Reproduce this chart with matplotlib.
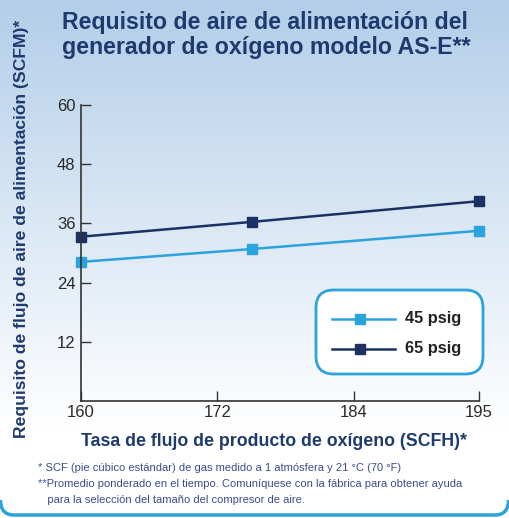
import numpy as np
import matplotlib
matplotlib.use("Agg")
import matplotlib.pyplot as plt
from matplotlib.patches import FancyBboxPatch, PathPatch
from matplotlib.path import Path
from matplotlib.lines import Line2D

flow_scfh = [160, 175, 195]
air_45 = [28.2, 30.8, 34.5]
air_65 = [33.3, 36.3, 40.5]
series_labels = ["45 psig", "65 psig"]
xticks = [160, 172, 184, 195]
yticks = [12, 24, 36, 48, 60]

title = "Requisito de aire de alimentación del\ngenerador de oxígeno modelo AS-E**"
ylabel = "Requisito de flujo de aire de alimentación (SCFM)*"
xlabel = "Tasa de flujo de producto de oxígeno (SCFH)*"
notes = ["* SCF (pie cúbico estándar) de gas medido a 1 atmósfera y 21 °C (70 °F)",
         "**Promedio ponderado en el tiempo. Comuníquese con la fábrica para obtener ayuda",
         "   para la selección del tamaño del compresor de aire."]

navy = "#1f3a6e"
light = "#2ba3dc"
dark = "#1b3163"

plt.rcParams['font.family'] = ['Liberation Sans', 'DejaVu Sans']

W, H = 509, 518
fig = plt.figure(figsize=(W/100, H/100), dpi=100)

# background gradient
bg = fig.add_axes([0, 0, 1, 1], zorder=-10)
n = 256
t = np.linspace(0, 1, n)[:, None]
top = np.array([179, 206, 233]) / 255
bot = np.array([255, 255, 255]) / 255
frac = np.clip(t / 0.83, 0, 1)
grad = top[None, None, :] * (1 - frac[..., None]) + bot[None, None, :] * frac[..., None]
grad = np.repeat(grad, 2, axis=1)
bg.imshow(grad, aspect='auto', extent=[0, 1, 0, 1], origin='upper')
bg.set_xlim(0, 1); bg.set_ylim(0, 1)
bg.axis('off')

# bottom border with rounded corners (figure pixel space, origin bottom-left)
by = 3.0
verts = [(0.5, 18), (0.5, by), (14, by), (W - 14, by), (W - 0.5, by), (W - 0.5, 18)]
codes = [Path.MOVETO, Path.CURVE3, Path.CURVE3, Path.LINETO, Path.CURVE3, Path.CURVE3]
verts = [(x / W, y / H) for x, y in verts]
fig.patches.append(PathPatch(Path(verts, codes), transform=fig.transFigure, fill=False,
                             edgecolor=light, linewidth=2.5))

ax = fig.add_axes([81/W, (H-401)/H, (479-81)/W, (401-105)/H])
ax.patch.set_alpha(0)
ax.plot(flow_scfh, air_45, color=light, lw=1.8, marker='s', ms=6.5, label=series_labels[0], clip_on=False)
ax.plot(flow_scfh, air_65, color=dark, lw=1.8, marker='s', ms=6.5, label=series_labels[1], clip_on=False)
ax.set_xlim(160, 195)
ax.set_ylim(0, 60)
ax.set_xticks(xticks)
ax.set_yticks(yticks)
ax.tick_params(direction='in', length=7, width=1, color='#333333', labelsize=12, labelcolor='#2a2a2a')
ax.tick_params(axis='x', pad=3)
ax.tick_params(axis='y', pad=4)
for s in ['top', 'right']:
    ax.spines[s].set_visible(False)
for s in ['left', 'bottom']:
    ax.spines[s].set_color('#333333')
    ax.spines[s].set_linewidth(1.2)

# legend box
lb = FancyBboxPatch((316/W, (H-374)/H), (483-316)/W, (374-290)/H,
                    boxstyle="round,pad=0,rounding_size=0.035", transform=fig.transFigure,
                    facecolor='white', edgecolor=light, linewidth=2, mutation_aspect=W/H)
fig.patches.append(lb)
for i, (c, lab) in enumerate(zip([light, dark], series_labels)):
    yy = (H - (319 + i * 30)) / H
    fig.add_artist(Line2D([332/W, 395/W], [yy, yy], color=c, lw=1.8, transform=fig.transFigure))
    fig.add_artist(Line2D([360/W], [yy], color=c, marker='s', ms=7, transform=fig.transFigure))
    fig.text(405/W, yy, lab, fontsize=11.8, fontweight='bold', color='#222222', va='center', ha='left')

fig.text(62/W, 1 - 11/H, title, fontsize=16.7, fontweight='bold', color=navy, va='top', ha='left', linespacing=1.1)
fig.text(22/W, (H-229)/H, ylabel, rotation=90, fontsize=12.6, fontweight='bold', color=navy, va='center', ha='center')
fig.text(274/W, 1 - 441/H, xlabel, fontsize=12.8, fontweight='bold', color=navy, va='center', ha='center')
for i, s in enumerate(notes):
    fig.text(38/W, 1 - (468 + 16 * i)/H, s, fontsize=8.05, color='#3a4d8a', va='center', ha='left')

fig.savefig("out.png", dpi=100)
